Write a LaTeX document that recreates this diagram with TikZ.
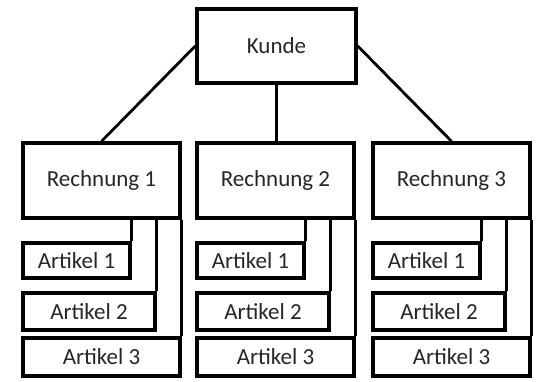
\documentclass[tikz,border=0pt]{standalone}
\usepackage{fontspec}
\setmainfont{Carlito}
\tikzset{
    box/.style={draw, line width=3.4pt, inner sep=0pt, text=black!85,
        font=\fontsize{23}{27}\selectfont},
    kundebox/.style={box, minimum width=159pt, minimum height=74pt},
    rechbox/.style={box, minimum width=157pt, minimum height=75pt},
    artA/.style={box, minimum width=107pt, minimum height=35pt},
    artB/.style={box, minimum width=132pt, minimum height=37pt},
    artC/.style={box, minimum width=157pt, minimum height=38pt},
    link/.style={line width=2.8pt}
}
\begin{document}
\begin{tikzpicture}[x=1pt, y=-1pt]
                \useasboundingbox (0,0) rectangle (541,382);
                
                \node[kundebox] (kunde) at (276.5,46) {Kunde};
                
                \node[rechbox] (r1) at (101.5,180.5) {Rechnung 1};
                \node[rechbox] (r2) at (275.5,180.5) {Rechnung 2};
                \node[rechbox] (r3) at (451.5,180.5) {Rechnung 3};
                
                \node[artA] (a11) at (76.5,260.5) {Artikel 1};
                \node[artB] (a12) at (89,311.5) {Artikel 2};
                \node[artC] (a13) at (101.5,357) {Artikel 3};
                
                \node[artA] (a21) at (250.5,260.5) {Artikel 1};
                \node[artB] (a22) at (263,311.5) {Artikel 2};
                \node[artC] (a23) at (275.5,357) {Artikel 3};
                
                \node[artA] (a31) at (426.5,260.5) {Artikel 1};
                \node[artB] (a32) at (439,311.5) {Artikel 2};
                \node[artC] (a33) at (451.5,357) {Artikel 3};
                
                \draw[link] (kunde.west) -- (r1.north);
                \draw[link] (kunde.south) -- (kunde.south |- r2.north);
                \draw[link] (kunde.east) -- (r3.north);
                
                \foreach \r in {1,2,3}{
                    \foreach \a in {1,2,3}{
                        \draw[box] (a\r\a.north east) -- (a\r\a.north east |- r\r.south);
                    }
                }
            \end{tikzpicture}
\end{document}
